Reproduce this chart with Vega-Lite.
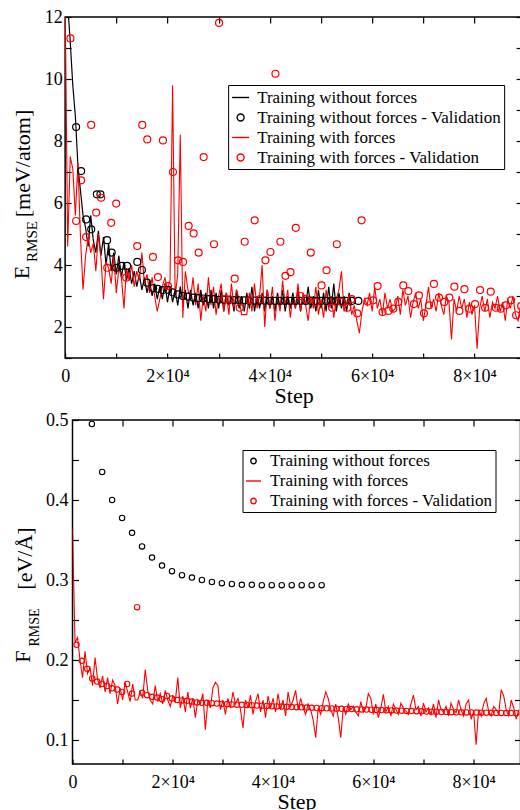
{
"$schema": "https://vega.github.io/schema/vega-lite/v6.json",
"background": "white",
"padding": {"left": 9, "top": 7, "right": 0, "bottom": 0},
"config": {
  "font": "Liberation Serif, Times New Roman, Times, serif",
  "view": {"stroke": "black", "strokeWidth": 1.5},
  "axis": {"grid": false, "domain": false, "labelFont": "Liberation Serif, Times New Roman, Times, serif", "titleFont": "Liberation Serif, Times New Roman, Times, serif", "labelFontSize": 18, "titleFontSize": 22, "titleFontWeight": "normal", "labelColor": "black", "titleColor": "black", "tickColor": "black", "tickWidth": 1.2, "labelOverlap": false, "labelFlush": false},
  "legend": {"labelFont": "Liberation Serif, Times New Roman, Times, serif", "labelColor": "black", "labelFontSize": 17, "strokeColor": "black", "fillColor": "white", "symbolStrokeWidth": 1.4, "labelLimit": 400}
},
"datasets": {
  "top": [
    {"step":0,"nf":12.8,"wf":12.6},{"step":500,"nf":12.4,"wf":4.6},{"step":1000,"nf":11.2,"wf":7.5},{"step":1500,"nf":9.8,"wf":7.1},{"step":2000,"nf":8.8,"wf":5.6},{"step":2500,"nf":7.2,"wf":7.3},{"step":3000,"nf":6.4,"wf":4.9},{"step":3500,"nf":5.6,"wf":3.2},{"step":4000,"nf":5.2,"wf":4.3},{"step":4500,"nf":4.6,"wf":4.9},
    {"step":5000,"nf":5.6,"wf":4.4},{"step":5500,"nf":4.8,"wf":4.7},{"step":6000,"nf":4.4,"wf":3.8},{"step":6500,"nf":5.1,"wf":5.0},{"step":7000,"nf":4.3,"wf":4.2},{"step":7500,"nf":4.9,"wf":2.9},{"step":8000,"nf":4.0,"wf":4.1},{"step":8500,"nf":4.7,"wf":3.9},{"step":9000,"nf":3.8,"wf":3.4},{"step":9500,"nf":4.4,"wf":4.3},
    {"step":10000,"nf":3.7,"wf":3.1},{"step":10500,"nf":4.3,"wf":3.9},{"step":11000,"nf":3.6,"wf":3.6},{"step":11500,"nf":4.1,"wf":2.6},{"step":12000,"nf":3.5,"wf":3.9},{"step":12500,"nf":3.9,"wf":3.5},{"step":13000,"nf":3.4,"wf":4.0},{"step":13500,"nf":3.8,"wf":3.3},{"step":14000,"nf":3.3,"wf":3.8},{"step":14500,"nf":3.7,"wf":3.5},
    {"step":15000,"nf":3.2,"wf":4.4},{"step":15500,"nf":3.6,"wf":3.4},{"step":16000,"nf":3.1,"wf":3.7},{"step":16500,"nf":3.5,"wf":3.1},{"step":17000,"nf":3.0,"wf":3.6},{"step":17500,"nf":3.4,"wf":3.0},{"step":18000,"nf":2.9,"wf":2.5},{"step":18500,"nf":3.3,"wf":2.9},{"step":19000,"nf":2.9,"wf":3.3},{"step":19500,"nf":3.4,"wf":3.6},
    {"step":20000,"nf":2.8,"wf":3.2},{"step":20500,"nf":3.3,"wf":3.5},{"step":21000,"nf":2.8,"wf":9.8},{"step":21500,"nf":3.2,"wf":3.0},{"step":22000,"nf":2.7,"wf":3.7},{"step":22500,"nf":3.3,"wf":8.2},{"step":23000,"nf":2.8,"wf":2.3},{"step":23500,"nf":3.2,"wf":3.8},{"step":24000,"nf":2.6,"wf":3.2},{"step":24500,"nf":3.2,"wf":2.9},
    {"step":25000,"nf":2.7,"wf":3.6},{"step":25500,"nf":3.1,"wf":2.7},{"step":26000,"nf":2.6,"wf":3.4},{"step":26500,"nf":3.2,"wf":2.2},{"step":27000,"nf":2.7,"wf":3.0},{"step":27500,"nf":3.1,"wf":2.5},{"step":28000,"nf":2.6,"wf":3.6},{"step":28500,"nf":3.2,"wf":2.7},{"step":29000,"nf":2.6,"wf":3.3},{"step":29500,"nf":3.1,"wf":2.4},
    {"step":30000,"nf":2.6,"wf":3.0},{"step":30500,"nf":3.2,"wf":3.4},{"step":31000,"nf":2.5,"wf":2.5},{"step":31500,"nf":3.1,"wf":3.1},{"step":32000,"nf":2.7,"wf":2.4},{"step":32500,"nf":3.0,"wf":3.4},{"step":33000,"nf":2.5,"wf":2.6},{"step":33500,"nf":3.2,"wf":3.2},{"step":34000,"nf":2.6,"wf":2.9},{"step":34500,"nf":3.0,"wf":2.4},
    {"step":35000,"nf":2.5,"wf":2.4},{"step":35500,"nf":3.1,"wf":2.4},{"step":36000,"nf":2.6,"wf":3.1},{"step":36500,"nf":3.3,"wf":2.5},{"step":37000,"nf":2.5,"wf":3.4},{"step":37500,"nf":3.0,"wf":2.6},{"step":38000,"nf":2.6,"wf":3.0},{"step":38500,"nf":3.1,"wf":4.0},{"step":39000,"nf":2.5,"wf":2.0},{"step":39500,"nf":3.2,"wf":3.2},
    {"step":40000,"nf":2.6,"wf":2.6},{"step":40500,"nf":3.0,"wf":3.3},{"step":41000,"nf":2.5,"wf":2.2},{"step":41500,"nf":3.1,"wf":3.0},{"step":42000,"nf":2.6,"wf":2.5},{"step":42500,"nf":3.2,"wf":3.5},{"step":43000,"nf":2.5,"wf":2.7},{"step":43500,"nf":3.0,"wf":3.2},{"step":44000,"nf":2.6,"wf":2.3},{"step":44500,"nf":3.1,"wf":3.0},
    {"step":45000,"nf":2.6,"wf":2.6},{"step":45500,"nf":3.2,"wf":3.4},{"step":46000,"nf":2.5,"wf":2.5},{"step":46500,"nf":3.0,"wf":3.1},{"step":47000,"nf":2.7,"wf":2.7},{"step":47500,"nf":3.3,"wf":2.2},{"step":48000,"nf":2.6,"wf":3.0},{"step":48500,"nf":3.0,"wf":2.6},{"step":49000,"nf":2.5,"wf":3.3},{"step":49500,"nf":3.2,"wf":2.4},
    {"step":50000,"nf":2.6,"wf":2.9},{"step":50500,"nf":3.1,"wf":2.3},{"step":51000,"nf":2.5,"wf":3.2},{"step":51500,"nf":3.3,"wf":2.6},{"step":52000,"nf":2.6,"wf":3.0},{"step":52500,"nf":3.4,"wf":2.3},{"step":53000,"nf":2.5,"wf":2.9},{"step":53500,"nf":3.1,"wf":3.2},{"step":54000,"nf":2.6,"wf":3.8},{"step":54500,"nf":3.0,"wf":2.5},
    {"step":55000,"nf":2.5,"wf":2.8},{"step":55500,"nf":3.1,"wf":3.0},{"step":56000,"nf":2.7,"wf":2.4},{"step":56500,"wf":2.7},{"step":57000,"wf":2.2},{"step":57500,"wf":1.8},{"step":58000,"wf":2.5},{"step":58500,"wf":2.9},{"step":59000,"wf":2.7},{"step":59500,"wf":3.1},
    {"step":60000,"wf":2.5},{"step":60500,"wf":3.3},{"step":61000,"wf":2.6},{"step":61500,"wf":2.9},{"step":62000,"wf":2.4},{"step":62500,"wf":3.1},{"step":63000,"wf":2.6},{"step":63500,"wf":2.9},{"step":64000,"wf":2.5},{"step":64500,"wf":2.6},
    {"step":65000,"wf":3.0},{"step":65500,"wf":2.4},{"step":66000,"wf":3.2},{"step":66500,"wf":2.7},{"step":67000,"wf":3.0},{"step":67500,"wf":2.3},{"step":68000,"wf":2.8},{"step":68500,"wf":3.1},{"step":69000,"wf":2.6},{"step":69500,"wf":2.9},
    {"step":70000,"wf":2.2},{"step":70500,"wf":2.7},{"step":71000,"wf":3.3},{"step":71500,"wf":2.6},{"step":72000,"wf":2.9},{"step":72500,"wf":2.5},{"step":73000,"wf":3.1},{"step":73500,"wf":2.7},{"step":74000,"wf":2.4},{"step":74500,"wf":3.0},
    {"step":75000,"wf":2.8},{"step":75500,"wf":1.6},{"step":76000,"wf":2.9},{"step":76500,"wf":2.5},{"step":77000,"wf":3.0},{"step":77500,"wf":2.6},{"step":78000,"wf":2.9},{"step":78500,"wf":2.3},{"step":79000,"wf":2.8},{"step":79500,"wf":2.4},
    {"step":80000,"wf":2.7},{"step":80500,"wf":1.3},{"step":81000,"wf":2.6},{"step":81500,"wf":3.0},{"step":82000,"wf":2.5},{"step":82500,"wf":2.9},{"step":83000,"wf":2.3},{"step":83500,"wf":2.8},{"step":84000,"wf":2.6},{"step":84500,"wf":3.0},
    {"step":85000,"wf":2.5},{"step":85500,"wf":2.8},{"step":86000,"wf":2.2},{"step":86500,"wf":2.9},{"step":87000,"wf":2.6},{"step":87500,"wf":3.0},{"step":88000,"wf":2.4},{"step":88500,"wf":2.2},{"step":89000,"wf":2.7},
    {"step":2150,"nfv":8.45},{"step":3130,"nfv":7.03},{"step":4100,"nfv":5.47},{"step":5100,"nfv":5.15},{"step":6200,"nfv":6.28},{"step":6900,"nfv":6.28},{"step":8200,"nfv":4.8},{"step":9100,"nfv":4.4},{"step":10000,"nfv":3.91},{"step":11000,"nfv":3.97},
    {"step":12100,"nfv":3.97},{"step":14100,"nfv":4.1},{"step":15000,"nfv":3.84},{"step":16000,"nfv":3.43},{"step":17200,"nfv":3.25},{"step":18100,"nfv":3.23},{"step":19100,"nfv":3.19},{"step":20100,"nfv":3.2},{"step":21000,"nfv":3.12},{"step":22000,"nfv":3.05},
    {"step":23000,"nfv":3.0},{"step":24000,"nfv":2.98},{"step":25000,"nfv":2.95},{"step":26000,"nfv":2.93},{"step":27000,"nfv":2.92},{"step":28000,"nfv":2.9},{"step":29000,"nfv":2.9},{"step":30000,"nfv":2.88},{"step":31000,"nfv":2.88},{"step":32000,"nfv":2.87},
    {"step":33000,"nfv":2.87},{"step":34000,"nfv":2.86},{"step":35000,"nfv":2.86},{"step":36000,"nfv":2.85},{"step":37000,"nfv":2.85},{"step":38000,"nfv":2.85},{"step":39000,"nfv":2.85},{"step":40000,"nfv":2.84},{"step":41000,"nfv":2.84},{"step":42000,"nfv":2.84},
    {"step":43000,"nfv":2.84},{"step":44000,"nfv":2.84},{"step":45000,"nfv":2.84},{"step":46000,"nfv":2.84},{"step":47000,"nfv":2.84},{"step":48000,"nfv":2.84},{"step":49000,"nfv":2.84},{"step":50000,"nfv":2.84},{"step":51000,"nfv":2.84},{"step":52000,"nfv":2.84},
    {"step":53000,"nfv":2.84},{"step":54000,"nfv":2.84},{"step":55000,"nfv":2.84},{"step":56000,"nfv":2.84},{"step":57300,"nfv":2.84},
    {"step":1040,"wfv":11.31},{"step":2150,"wfv":5.42},{"step":3130,"wfv":6.73},{"step":4100,"wfv":4.9},{"step":5090,"wfv":8.52},{"step":6070,"wfv":5.69},{"step":7045,"wfv":6.17},{"step":8220,"wfv":3.91},{"step":9000,"wfv":5.36},{"step":9980,"wfv":5.98},
    {"step":11940,"wfv":3.59},{"step":14090,"wfv":4.61},{"step":15070,"wfv":8.52},{"step":16050,"wfv":8.05},{"step":17160,"wfv":4.26},{"step":18140,"wfv":3.61},{"step":19120,"wfv":8.02},{"step":20100,"wfv":3.32},{"step":21070,"wfv":7.0},{"step":22050,"wfv":4.15},
    {"step":23030,"wfv":4.1},{"step":24130,"wfv":5.26},{"step":25110,"wfv":5.02},{"step":26090,"wfv":4.4},{"step":27070,"wfv":7.48},{"step":29090,"wfv":4.67},{"step":30080,"wfv":11.81},{"step":31170,"wfv":2.9},{"step":32150,"wfv":2.89},{"step":33130,"wfv":3.56},
    {"step":34110,"wfv":2.62},{"step":35090,"wfv":4.75},{"step":36070,"wfv":2.86},{"step":37040,"wfv":5.44},{"step":38100,"wfv":2.9},{"step":39140,"wfv":4.15},{"step":40120,"wfv":4.42},{"step":41100,"wfv":10.17},{"step":42070,"wfv":4.75},{"step":43050,"wfv":3.65},
    {"step":44030,"wfv":3.77},{"step":45070,"wfv":5.2},{"step":46000,"wfv":3.0},{"step":47000,"wfv":2.9},{"step":48000,"wfv":4.4},{"step":49000,"wfv":2.8},{"step":50100,"wfv":3.34},{"step":51080,"wfv":3.83},{"step":52190,"wfv":2.62},{"step":53090,"wfv":4.67},
    {"step":54000,"wfv":2.81},{"step":55130,"wfv":2.62},{"step":56000,"wfv":2.9},{"step":57080,"wfv":2.44},{"step":57930,"wfv":5.44},{"step":59100,"wfv":2.82},{"step":60210,"wfv":2.86},{"step":61060,"wfv":3.32},{"step":62030,"wfv":2.48},{"step":63150,"wfv":2.52},
    {"step":64120,"wfv":2.59},{"step":65100,"wfv":2.81},{"step":66080,"wfv":3.34},{"step":67060,"wfv":3.16},{"step":68160,"wfv":2.74},{"step":69140,"wfv":3.02},{"step":70120,"wfv":2.44},{"step":71100,"wfv":2.7},{"step":72070,"wfv":3.39},{"step":73050,"wfv":2.95},
    {"step":74100,"wfv":2.81},{"step":75080,"wfv":2.95},{"step":76060,"wfv":3.3},{"step":77040,"wfv":2.52},{"step":78020,"wfv":3.22},{"step":79000,"wfv":2.59},{"step":80100,"wfv":2.74},{"step":81080,"wfv":3.19},{"step":82060,"wfv":2.62},{"step":83170,"wfv":3.14},
    {"step":84150,"wfv":2.62},{"step":85130,"wfv":2.59},{"step":86100,"wfv":2.7},{"step":87150,"wfv":2.86},{"step":88120,"wfv":2.38},{"step":89100,"wfv":2.68}
  ],
  "bottom": [
    {"step":0,"wf":0.364},{"step":500,"wf":0.222},{"step":1000,"wf":0.228},{"step":1500,"wf":0.2},{"step":2000,"wf":0.178},{"step":2500,"wf":0.211},{"step":3000,"wf":0.183},{"step":3500,"wf":0.19},{"step":4000,"wf":0.168},{"step":4500,"wf":0.203},
    {"step":5000,"wf":0.176},{"step":5500,"wf":0.165},{"step":6000,"wf":0.18},{"step":6500,"wf":0.16},{"step":7000,"wf":0.178},{"step":7500,"wf":0.158},{"step":8000,"wf":0.175},{"step":8500,"wf":0.168},{"step":9000,"wf":0.145},{"step":9500,"wf":0.165},
    {"step":10000,"wf":0.15},{"step":10500,"wf":0.172},{"step":11000,"wf":0.16},{"step":11500,"wf":0.148},{"step":12000,"wf":0.17},{"step":12500,"wf":0.15},{"step":13000,"wf":0.15},{"step":13500,"wf":0.16},{"step":14000,"wf":0.152},{"step":14500,"wf":0.188},
    {"step":15000,"wf":0.162},{"step":15500,"wf":0.15},{"step":16000,"wf":0.145},{"step":16500,"wf":0.168},{"step":17000,"wf":0.148},{"step":17500,"wf":0.158},{"step":18000,"wf":0.145},{"step":18500,"wf":0.162},{"step":19000,"wf":0.15},{"step":19500,"wf":0.142},
    {"step":20000,"wf":0.155},{"step":20500,"wf":0.148},{"step":21000,"wf":0.178},{"step":21500,"wf":0.14},{"step":22000,"wf":0.155},{"step":22500,"wf":0.135},{"step":23000,"wf":0.16},{"step":23500,"wf":0.14},{"step":24000,"wf":0.152},{"step":24500,"wf":0.128},
    {"step":25000,"wf":0.15},{"step":25500,"wf":0.145},{"step":26000,"wf":0.158},{"step":26500,"wf":0.113},{"step":27000,"wf":0.15},{"step":27500,"wf":0.14},{"step":28000,"wf":0.165},{"step":28500,"wf":0.172},{"step":29000,"wf":0.168},{"step":29500,"wf":0.138},
    {"step":30000,"wf":0.15},{"step":30500,"wf":0.132},{"step":31000,"wf":0.152},{"step":31500,"wf":0.14},{"step":32000,"wf":0.16},{"step":32500,"wf":0.145},{"step":33000,"wf":0.152},{"step":33500,"wf":0.138},{"step":34000,"wf":0.115},{"step":34500,"wf":0.15},
    {"step":35000,"wf":0.14},{"step":35500,"wf":0.156},{"step":36000,"wf":0.132},{"step":36500,"wf":0.148},{"step":37000,"wf":0.158},{"step":37500,"wf":0.135},{"step":38000,"wf":0.15},{"step":38500,"wf":0.128},{"step":39000,"wf":0.155},{"step":39500,"wf":0.14},
    {"step":40000,"wf":0.152},{"step":40500,"wf":0.135},{"step":41000,"wf":0.158},{"step":41500,"wf":0.138},{"step":42000,"wf":0.15},{"step":42500,"wf":0.13},{"step":43000,"wf":0.16},{"step":43500,"wf":0.142},{"step":44000,"wf":0.15},{"step":44500,"wf":0.162},
    {"step":45000,"wf":0.138},{"step":45500,"wf":0.152},{"step":46000,"wf":0.14},{"step":46500,"wf":0.132},{"step":47000,"wf":0.145},{"step":47500,"wf":0.138},{"step":48000,"wf":0.125},{"step":48500,"wf":0.103},{"step":49000,"wf":0.14},{"step":49500,"wf":0.132},
    {"step":50000,"wf":0.148},{"step":50500,"wf":0.16},{"step":51000,"wf":0.152},{"step":51500,"wf":0.138},{"step":52000,"wf":0.13},{"step":52500,"wf":0.145},{"step":53000,"wf":0.128},{"step":53500,"wf":0.103},{"step":54000,"wf":0.14},{"step":54500,"wf":0.132},
    {"step":55000,"wf":0.145},{"step":55500,"wf":0.138},{"step":56000,"wf":0.142},{"step":56500,"wf":0.135},{"step":57000,"wf":0.13},{"step":57500,"wf":0.148},{"step":58000,"wf":0.135},{"step":58500,"wf":0.14},{"step":59000,"wf":0.158},{"step":59500,"wf":0.152},
    {"step":60000,"wf":0.132},{"step":60500,"wf":0.145},{"step":61000,"wf":0.128},{"step":61500,"wf":0.14},{"step":62000,"wf":0.157},{"step":62500,"wf":0.135},{"step":63000,"wf":0.142},{"step":63500,"wf":0.13},{"step":64000,"wf":0.145},{"step":64500,"wf":0.138},
    {"step":65000,"wf":0.132},{"step":65500,"wf":0.146},{"step":66000,"wf":0.14},{"step":66500,"wf":0.136},{"step":67000,"wf":0.132},{"step":67500,"wf":0.145},{"step":68000,"wf":0.156},{"step":68500,"wf":0.138},{"step":69000,"wf":0.142},{"step":69500,"wf":0.13},
    {"step":70000,"wf":0.146},{"step":70500,"wf":0.135},{"step":71000,"wf":0.14},{"step":71500,"wf":0.132},{"step":72000,"wf":0.145},{"step":72500,"wf":0.128},{"step":73000,"wf":0.15},{"step":73500,"wf":0.138},{"step":74000,"wf":0.135},{"step":74500,"wf":0.142},
    {"step":75000,"wf":0.13},{"step":75500,"wf":0.146},{"step":76000,"wf":0.138},{"step":76500,"wf":0.134},{"step":77000,"wf":0.15},{"step":77500,"wf":0.138},{"step":78000,"wf":0.13},{"step":78500,"wf":0.145},{"step":79000,"wf":0.15},{"step":79500,"wf":0.126},
    {"step":80000,"wf":0.135},{"step":80500,"wf":0.094},{"step":81000,"wf":0.138},{"step":81500,"wf":0.13},{"step":82000,"wf":0.145},{"step":82500,"wf":0.152},{"step":83000,"wf":0.136},{"step":83500,"wf":0.13},{"step":84000,"wf":0.142},{"step":84500,"wf":0.138},
    {"step":85000,"wf":0.132},{"step":85500,"wf":0.163},{"step":86000,"wf":0.155},{"step":86500,"wf":0.138},{"step":87000,"wf":0.13},{"step":87500,"wf":0.15},{"step":88000,"wf":0.14},{"step":88500,"wf":0.126},{"step":89000,"wf":0.138},
    {"step":3860,"nf":0.495},{"step":5910,"nf":0.435},{"step":7900,"nf":0.4},{"step":9890,"nf":0.3775},{"step":11880,"nf":0.359},{"step":13870,"nf":0.342},{"step":15860,"nf":0.328},{"step":17850,"nf":0.318},{"step":19840,"nf":0.311},{"step":21830,"nf":0.306},
    {"step":23820,"nf":0.303},{"step":25810,"nf":0.3},{"step":27800,"nf":0.2975},{"step":29790,"nf":0.296},{"step":31780,"nf":0.295},{"step":33770,"nf":0.294},{"step":35760,"nf":0.294},{"step":37750,"nf":0.2935},{"step":39740,"nf":0.2935},{"step":41730,"nf":0.2935},
    {"step":43720,"nf":0.2935},{"step":45710,"nf":0.2935},{"step":47700,"nf":0.2935},{"step":49690,"nf":0.2935},
    {"step":810,"wfv":0.219},{"step":1870,"wfv":0.199},{"step":2920,"wfv":0.189},{"step":3920,"wfv":0.177},{"step":4920,"wfv":0.173},{"step":5910,"wfv":0.17},{"step":6910,"wfv":0.1675},{"step":7900,"wfv":0.1646},{"step":8900,"wfv":0.163},{"step":9890,"wfv":0.16},
    {"step":10890,"wfv":0.17},{"step":11880,"wfv":0.158},{"step":12880,"wfv":0.266},{"step":13870,"wfv":0.159},{"step":14870,"wfv":0.156},{"step":15860,"wfv":0.154},{"step":16860,"wfv":0.153},{"step":17850,"wfv":0.151},{"step":18850,"wfv":0.155},{"step":19840,"wfv":0.152},
    {"step":20840,"wfv":0.15},{"step":21830,"wfv":0.1495},{"step":22830,"wfv":0.149},{"step":23820,"wfv":0.148},{"step":24820,"wfv":0.147},{"step":25810,"wfv":0.1465},{"step":26810,"wfv":0.1465},{"step":27800,"wfv":0.146},{"step":28800,"wfv":0.1455},{"step":29790,"wfv":0.145},
    {"step":30790,"wfv":0.1448},{"step":31780,"wfv":0.1445},{"step":32780,"wfv":0.1442},{"step":33770,"wfv":0.144},{"step":34770,"wfv":0.1438},{"step":35760,"wfv":0.1435},{"step":36760,"wfv":0.143},{"step":37750,"wfv":0.1428},{"step":38750,"wfv":0.1425},{"step":39740,"wfv":0.1422},
    {"step":40740,"wfv":0.142},{"step":41730,"wfv":0.1418},{"step":42730,"wfv":0.1415},{"step":43720,"wfv":0.1412},{"step":44720,"wfv":0.141},{"step":45710,"wfv":0.1408},{"step":46710,"wfv":0.1405},{"step":47700,"wfv":0.1402},{"step":48700,"wfv":0.14},{"step":49690,"wfv":0.1398},
    {"step":50690,"wfv":0.1396},{"step":51680,"wfv":0.1394},{"step":52680,"wfv":0.1392},{"step":53670,"wfv":0.139},{"step":54670,"wfv":0.1388},{"step":55660,"wfv":0.1386},{"step":56660,"wfv":0.1384},{"step":57650,"wfv":0.1382},{"step":58650,"wfv":0.138},{"step":59640,"wfv":0.1378},
    {"step":60640,"wfv":0.1376},{"step":61630,"wfv":0.1374},{"step":62630,"wfv":0.1372},{"step":63620,"wfv":0.137},{"step":64620,"wfv":0.1368},{"step":65610,"wfv":0.1366},{"step":66610,"wfv":0.1364},{"step":67600,"wfv":0.1362},{"step":68600,"wfv":0.136},{"step":69590,"wfv":0.1358},
    {"step":70590,"wfv":0.1356},{"step":71580,"wfv":0.1354},{"step":72580,"wfv":0.1352},{"step":73570,"wfv":0.135},{"step":74570,"wfv":0.1349},{"step":75560,"wfv":0.1348},{"step":76560,"wfv":0.1347},{"step":77550,"wfv":0.1346},{"step":78550,"wfv":0.1345},{"step":79540,"wfv":0.1344},
    {"step":80540,"wfv":0.1343},{"step":81530,"wfv":0.1342},{"step":82530,"wfv":0.1341},{"step":83520,"wfv":0.134},{"step":84520,"wfv":0.1339},{"step":85510,"wfv":0.1338},{"step":86510,"wfv":0.1337},{"step":87500,"wfv":0.1336},{"step":88500,"wfv":0.1335}
  ]
},
"concat": [
  {
    "width": 457, "height": 341,
    "data": {"name": "top"},
    "transform": [{"fold": ["nf", "nfv", "wf", "wfv"], "as": ["series", "value"]}, {"filter": "isValid(datum.value)"}],
    "resolve": {"axis": {"x": "independent", "y": "independent"}},
    "layer": [
      {
        "transform": [{"filter": {"field": "series", "equal": "nf"}}],
        "mark": {"type": "line", "color": "black", "strokeWidth": 1.2, "clip": true},
        "encoding": {
          "x": {"field": "step", "type": "quantitative", "scale": {"domain": [0, 89300], "nice": false, "zero": false},
                "axis": {"orient": "bottom", "values": [0,10000,20000,30000,40000,50000,60000,70000,80000], "labelExpr": "datum.value % 20000 == 0 ? (datum.value == 0 ? '0' : (datum.value / 10000) + '×10⁴') : ''", "tickSize": -5, "labelPadding": 14, "title": "Step", "titlePadding": 0}},
          "y": {"field": "value", "type": "quantitative", "scale": {"domain": [1, 12], "nice": false, "zero": false},
                "axis": {"orient": "left", "values": [1,2,3,4,5,6,7,8,9,10,11,12], "labelExpr": "datum.value % 2 == 0 ? datum.label : ''", "tickSize": -6, "labelPadding": 9, "title": "E", "titleAngle": 270, "titleAlign": "center", "titleBaseline": "middle", "titleX": -44, "titleY": 255}}
        }
      },
      {
        "transform": [{"filter": {"field": "series", "equal": "wf"}}],
        "mark": {"type": "line", "color": "red", "strokeWidth": 1.1, "clip": true},
        "encoding": {
          "x": {"field": "step", "type": "quantitative", "axis": {"orient": "top", "values": [10000,20000,30000,40000,50000,60000,70000,80000], "labels": false, "tickSize": -6, "title": null}},
          "y": {"field": "value", "type": "quantitative", "axis": {"orient": "right", "values": [1,2,3,4,5,6,7,8,9,10,11,12], "labels": false, "tickSize": -6, "title": "\u00a0", "titleAngle": 90, "titleAlign": "center", "titleBaseline": "middle", "titleX": -2, "titleY": 170}}
        }
      },
      {
        "transform": [{"filter": {"field": "series", "equal": "nfv"}}],
        "mark": {"type": "point", "filled": false, "size": 289, "strokeWidth": 1.2, "opacity": 1, "clip": true},
        "encoding": {
          "x": {"field": "step", "type": "quantitative", "axis": null},
          "y": {"field": "value", "type": "quantitative", "axis": {"orient": "left", "labels": false, "ticks": false, "title": "RMSE", "titleFontSize": 15, "titleAngle": 270, "titleAlign": "center", "titleBaseline": "middle", "titleX": -34, "titleY": 224}},
          "color": {"field": "series", "type": "nominal", "scale": {"domain": ["nf", "nfv", "wf", "wfv"], "range": ["black", "black", "red", "red"]},
                    "legend": {"orient": "none", "legendX": 163, "legendY": 68, "title": null, "padding": 3, "rowPadding": 2, "labelOffset": 7, "symbolSize": 289,
                               "labelExpr": "datum.label == 'nf' ? 'Training without forces' : datum.label == 'nfv' ? 'Training without forces - Validation' : datum.label == 'wf' ? 'Training with forces' : 'Training with forces - Validation'"}},
          "shape": {"field": "series", "type": "nominal", "scale": {"domain": ["nf", "nfv", "wf", "wfv"], "range": ["M-1,0H1", "M-0.41,0A0.41,0.41,0,1,0,0.41,0A0.41,0.41,0,1,0,-0.41,0Z", "M-1,0H1", "M-0.41,0A0.41,0.41,0,1,0,0.41,0A0.41,0.41,0,1,0,-0.41,0Z"]},
                    "legend": {"orient": "none", "legendX": 163, "legendY": 68, "title": null, "padding": 3, "rowPadding": 2, "labelOffset": 7, "symbolSize": 289,
                               "labelExpr": "datum.label == 'nf' ? 'Training without forces' : datum.label == 'nfv' ? 'Training without forces - Validation' : datum.label == 'wf' ? 'Training with forces' : 'Training with forces - Validation'"}}
        }
      },
      {
        "transform": [{"filter": {"field": "series", "equal": "wfv"}}],
        "mark": {"type": "point", "filled": false, "size": 289, "strokeWidth": 1.2, "opacity": 1, "clip": true},
        "encoding": {
          "x": {"field": "step", "type": "quantitative", "axis": null},
          "y": {"field": "value", "type": "quantitative", "axis": {"orient": "left", "labels": false, "ticks": false, "title": "[meV/atom]", "titleAngle": 270, "titleAlign": "center", "titleBaseline": "middle", "titleX": -43, "titleY": 146}},
          "color": {"field": "series", "type": "nominal", "scale": {"domain": ["nf", "nfv", "wf", "wfv"], "range": ["black", "black", "red", "red"]},
                    "legend": {"orient": "none", "legendX": 163, "legendY": 68, "title": null, "padding": 3, "rowPadding": 2, "labelOffset": 7, "symbolSize": 289,
                               "labelExpr": "datum.label == 'nf' ? 'Training without forces' : datum.label == 'nfv' ? 'Training without forces - Validation' : datum.label == 'wf' ? 'Training with forces' : 'Training with forces - Validation'"}},
          "shape": {"field": "series", "type": "nominal", "scale": {"domain": ["nf", "nfv", "wf", "wfv"], "range": ["M-1,0H1", "M-0.41,0A0.41,0.41,0,1,0,0.41,0A0.41,0.41,0,1,0,-0.41,0Z", "M-1,0H1", "M-0.41,0A0.41,0.41,0,1,0,0.41,0A0.41,0.41,0,1,0,-0.41,0Z"]},
                    "legend": {"orient": "none", "legendX": 163, "legendY": 68, "title": null, "padding": 3, "rowPadding": 2, "labelOffset": 7, "symbolSize": 289,
                               "labelExpr": "datum.label == 'nf' ? 'Training without forces' : datum.label == 'nfv' ? 'Training without forces - Validation' : datum.label == 'wf' ? 'Training with forces' : 'Training with forces - Validation'"}}
        }
      }
    ]
  },
  {
    "width": 448, "height": 344,
    "data": {"name": "bottom"},
    "transform": [{"fold": ["nf", "wf", "wfv"], "as": ["series", "value"]}, {"filter": "isValid(datum.value)"}],
    "resolve": {"axis": {"x": "independent", "y": "independent"}},
    "layer": [
      {
        "transform": [{"filter": {"field": "series", "equal": "wf"}}],
        "mark": {"type": "line", "color": "red", "strokeWidth": 1.1, "clip": true},
        "encoding": {
          "x": {"field": "step", "type": "quantitative", "scale": {"domain": [0, 89350], "nice": false, "zero": false},
                "axis": {"orient": "bottom", "values": [0,10000,20000,30000,40000,50000,60000,70000,80000], "labelExpr": "datum.value % 20000 == 0 ? (datum.value == 0 ? '0' : (datum.value / 10000) + '×10⁴') : ''", "tickSize": -5, "labelPadding": 14, "title": "Step", "titlePadding": 0}},
          "y": {"field": "value", "type": "quantitative", "scale": {"domain": [0.07, 0.5], "nice": false, "zero": false},
                "axis": {"orient": "left", "values": [0.1,0.15,0.2,0.25,0.3,0.35,0.4,0.45,0.5], "labelExpr": "round(datum.value * 100) % 10 == 0 ? format(datum.value, '.1f') : ''", "tickSize": -6, "labelPadding": 10.5, "title": "F", "titleAngle": 270, "titleAlign": "center", "titleBaseline": "middle", "titleX": -50, "titleY": 236}}
        }
      },
      {
        "transform": [{"filter": {"field": "series", "equal": "nf"}}],
        "mark": {"type": "point", "filled": false, "size": 225, "strokeWidth": 1.1, "opacity": 1, "clip": true},
        "encoding": {
          "x": {"field": "step", "type": "quantitative", "axis": {"orient": "top", "values": [10000,20000,30000,40000,50000,60000,70000,80000], "labels": false, "tickSize": -6, "title": null}},
          "y": {"field": "value", "type": "quantitative", "axis": {"orient": "right", "values": [0.1,0.15,0.2,0.25,0.3,0.35,0.4,0.45,0.5], "labels": false, "tickSize": -6, "title": null}},
          "color": {"field": "series", "type": "nominal", "scale": {"domain": ["nf", "wf", "wfv"], "range": ["black", "red", "red"]},
                    "legend": {"orient": "none", "legendX": 170, "legendY": 30, "title": null, "padding": 2.5, "rowPadding": 2, "labelOffset": 8, "symbolSize": 225,
                               "labelExpr": "datum.label == 'nf' ? 'Training without forces' : datum.label == 'wf' ? 'Training with forces' : 'Training with forces - Validation'"}},
          "shape": {"field": "series", "type": "nominal", "scale": {"domain": ["nf", "wf", "wfv"], "range": ["M-0.36,0A0.36,0.36,0,1,0,0.36,0A0.36,0.36,0,1,0,-0.36,0Z", "M-1,0H1", "M-0.36,0A0.36,0.36,0,1,0,0.36,0A0.36,0.36,0,1,0,-0.36,0Z"]},
                    "legend": {"orient": "none", "legendX": 170, "legendY": 30, "title": null, "padding": 2.5, "rowPadding": 2, "labelOffset": 8, "symbolSize": 225,
                               "labelExpr": "datum.label == 'nf' ? 'Training without forces' : datum.label == 'wf' ? 'Training with forces' : 'Training with forces - Validation'"}}
        }
      },
      {
        "transform": [{"filter": {"field": "series", "equal": "wfv"}}],
        "mark": {"type": "point", "filled": false, "size": 225, "strokeWidth": 1.1, "opacity": 1, "clip": true},
        "encoding": {
          "x": {"field": "step", "type": "quantitative", "axis": null},
          "y": {"field": "value", "type": "quantitative", "axis": {"orient": "left", "labels": false, "ticks": false, "title": "RMSE", "titleFontSize": 14, "titleAngle": 270, "titleAlign": "center", "titleBaseline": "middle", "titleX": -38, "titleY": 207}},
          "color": {"field": "series", "type": "nominal", "scale": {"domain": ["nf", "wf", "wfv"], "range": ["black", "red", "red"]},
                    "legend": {"orient": "none", "legendX": 170, "legendY": 30, "title": null, "padding": 2.5, "rowPadding": 2, "labelOffset": 8, "symbolSize": 225,
                               "labelExpr": "datum.label == 'nf' ? 'Training without forces' : datum.label == 'wf' ? 'Training with forces' : 'Training with forces - Validation'"}},
          "shape": {"field": "series", "type": "nominal", "scale": {"domain": ["nf", "wf", "wfv"], "range": ["M-0.36,0A0.36,0.36,0,1,0,0.36,0A0.36,0.36,0,1,0,-0.36,0Z", "M-1,0H1", "M-0.36,0A0.36,0.36,0,1,0,0.36,0A0.36,0.36,0,1,0,-0.36,0Z"]},
                    "legend": {"orient": "none", "legendX": 170, "legendY": 30, "title": null, "padding": 2.5, "rowPadding": 2, "labelOffset": 8, "symbolSize": 225,
                               "labelExpr": "datum.label == 'nf' ? 'Training without forces' : datum.label == 'wf' ? 'Training with forces' : 'Training with forces - Validation'"}}
        }
      },
      {
        "transform": [{"filter": {"field": "series", "equal": "wfv"}}],
        "mark": {"type": "point", "filled": false, "size": 225, "opacity": 0},
        "encoding": {
          "x": {"field": "step", "type": "quantitative", "axis": null},
          "y": {"field": "value", "type": "quantitative", "axis": {"orient": "left", "labels": false, "ticks": false, "title": "[eV/Å]", "titleAngle": 270, "titleAlign": "center", "titleBaseline": "middle", "titleX": -48, "titleY": 138}}
        }
      }
    ]
  }
],
"columns": 1,
"align": "all",
"center": true,
"spacing": 0,
"resolve": {"scale": {"color": "independent", "shape": "independent"}, "legend": {"color": "independent", "shape": "independent"}}
}
